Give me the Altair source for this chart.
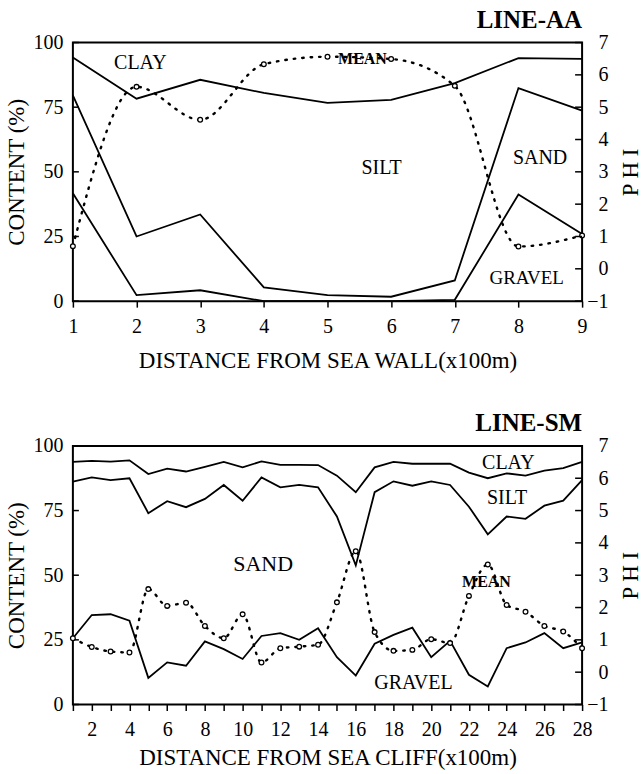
import altair as alt
import pandas as pd

# ---------------- LINE-AA data ----------------
AA_X = [1, 2, 3, 4, 5, 6, 7, 8, 9]
AA_CLAY_SILT = [94.2, 78.3, 85.6, 80.5, 76.7, 77.8, 84.3, 94.0, 93.7]
AA_SILT_SAND = [79.6, 25.0, 33.5, 5.3, 2.3, 1.7, 8.0, 82.4, 73.7]
AA_SAND_GRAVEL = [41.7, 2.3, 4.2, 0.0, 0.0, 0.0, 0.5, 41.2, 26.0]
AA_MEAN_PHI = [0.70, 5.63, 4.61, 6.33, 6.56, 6.49, 5.66, 0.69, 1.03]

# ---------------- LINE-SM data ----------------
SM_X = list(range(1, 29))
SM_CLAY_SILT = [93.8, 94.2, 93.9, 94.4, 89.1, 91.2, 90.1, 91.9, 93.8, 91.7, 94.0, 92.7, 92.7, 92.6,
                88.5, 82.1, 91.7, 93.8, 93.1, 93.1, 93.1, 89.7, 87.5, 89.4, 88.5, 90.4, 91.4, 93.8]
SM_SILT_SAND = [86.2, 87.8, 86.8, 87.5, 74.0, 78.6, 76.3, 79.5, 84.9, 78.8, 87.8, 84.0, 84.9, 84.0,
                72.7, 53.8, 82.1, 86.3, 84.6, 86.3, 84.9, 76.5, 65.8, 72.7, 71.8, 76.9, 78.8, 86.8]
SM_SAND_GRAVEL = [25.6, 34.6, 34.9, 32.4, 10.3, 16.3, 15.0, 24.4, 21.4, 17.6, 26.5, 27.6, 25.0, 29.5,
                  18.3, 11.2, 23.5, 26.9, 29.7, 18.3, 24.6, 11.5, 7.0, 21.8, 24.0, 27.6, 21.8, 24.0]
SM_MEAN_PHI = [1.05, 0.78, 0.64, 0.61, 2.57, 2.05, 2.15, 1.43, 1.05, 1.79, 0.30, 0.74, 0.79, 0.85,
               2.16, 3.74, 1.24, 0.66, 0.69, 1.02, 0.90, 2.36, 3.33, 2.08, 1.87, 1.43, 1.26, 0.74]

# annotation labels: (text, x, content %, size, weight)
AA_LABELS = [("CLAY", 2.06, 92.0, 20, "normal"), ("SILT", 5.85, 51.5, 20, "normal"),
             ("SAND", 8.34, 55.4, 20, "normal"), ("GRAVEL", 8.13, 8.8, 19, "normal"),
             ("MEAN", 5.55, 93.8, 16, "bold")]
SM_LABELS = [("CLAY", 24.09, 93.3, 20, "normal"), ("SILT", 24.02, 79.8, 20, "normal"),
             ("SAND", 11.09, 54.2, 22, "normal"), ("GRAVEL", 19.06, 8.3, 20, "normal"),
             ("MEAN", 22.93, 47.5, 16, "bold")]

PCT_TICKS = [0, 25, 50, 75, 100]
PHI_TICKS = [-1, 0, 1, 2, 3, 4, 5, 6, 7]

W, H = 510, 259
FONT = "Liberation Serif"


def panel(xs, b1, b2, b3, mean, labels, title, xtitle, even_labels, xtitle_pad):
    xmax = max(xs)
    xscale = alt.Scale(domain=[1, xmax], nice=False, zero=False)
    yscale = alt.Scale(domain=[0, 100], nice=False)
    pscale = alt.Scale(domain=[-1, 7], nice=False)

    xaxis = alt.Axis(values=xs, title=xtitle, tickSize=6, tickWidth=1.5, tickColor="black",
                     labelPadding=9, titlePadding=xtitle_pad, labelFlush=False,
                     labelExpr=("datum.value % 2 == 0 ? datum.label : ''" if even_labels else "datum.label"))
    X = alt.X("x:Q", scale=xscale, axis=xaxis)

    rows = []
    for name, arr in (("b1", b1), ("b2", b2), ("b3", b3)):
        for xv, v in zip(xs, arr):
            rows.append({"x": xv, "v": v, "s": name})
    bdf = pd.DataFrame(rows)
    mdf = pd.DataFrame({"x": xs, "phi": mean})
    ldf = pd.DataFrame([{"t": t, "x": x, "v": v, "fs": fs, "fw": fw} for t, x, v, fs, fw in labels])

    lines = alt.Chart(bdf).mark_line(color="black", strokeWidth=1.8).encode(
        x=X,
        y=alt.Y("v:Q", scale=yscale,
                axis=alt.Axis(orient="left", values=PCT_TICKS, ticks=False, title="CONTENT (%)",
                              labelPadding=10, titlePadding=4)),
        detail="s:N",
    )
    lticks = alt.Chart(pd.DataFrame({"v": PCT_TICKS})).mark_rule(color="black", strokeWidth=1.5).encode(
        y=alt.Y("v:Q", scale=yscale, axis=None), x=alt.value(0), x2=alt.value(6))

    mline = alt.Chart(mdf).mark_line(color="black", strokeWidth=2.4, strokeDash=[1.5, 7],
                                     strokeCap="round", interpolate="monotone").encode(
        x=X,
        y=alt.Y("phi:Q", scale=pscale,
                axis=alt.Axis(orient="right", values=PHI_TICKS, ticks=False, title="P H I",
                              labelAlign="right", labelPadding=26, titleAngle=270, titlePadding=34)),
    )
    mpts = alt.Chart(mdf).mark_point(shape="circle", filled=True, fill="white", stroke="black",
                                     strokeWidth=1.3, size=22, opacity=1).encode(
        x=X, y=alt.Y("phi:Q", scale=pscale, axis=None))
    rticks = alt.Chart(pd.DataFrame({"p": PHI_TICKS})).mark_rule(color="black", strokeWidth=1.5).encode(
        y=alt.Y("p:Q", scale=pscale, axis=None), x=alt.value(W - 7), x2=alt.value(W))

    texts = []
    for fs in sorted(set(ldf["fs"])):
        for fw in sorted(set(ldf["fw"])):
            sub = ldf[(ldf["fs"] == fs) & (ldf["fw"] == fw)]
            if len(sub) == 0:
                continue
            texts.append(alt.Chart(sub).mark_text(font=FONT, fontSize=int(fs), fontWeight=fw,
                                                  color="black").encode(
                x=X, y=alt.Y("v:Q", scale=yscale, axis=None), text="t:N"))

    return alt.layer(lines, lticks, mline, mpts, rticks, *texts).resolve_scale(
        y="independent").properties(
        width=W, height=H,
        title=alt.TitleParams(title, anchor="end", frame="group", fontSize=25, fontWeight="bold",
                              font=FONT, offset=0))


top = panel(AA_X, AA_CLAY_SILT, AA_SILT_SAND, AA_SAND_GRAVEL, AA_MEAN_PHI, AA_LABELS,
            "LINE-AA", "DISTANCE FROM  SEA WALL(x100m)", False, 13)
bottom = panel(SM_X, SM_CLAY_SILT, SM_SILT_SAND, SM_SAND_GRAVEL, SM_MEAN_PHI, SM_LABELS,
               "LINE-SM", "DISTANCE FROM  SEA CLIFF(x100m)", True, 7)

chart = alt.vconcat(top, bottom, spacing=37).properties(
    padding={"left": 5, "top": 6, "right": 0, "bottom": 0}
).configure_view(stroke="black", strokeWidth=2).configure_axis(
    labelFont=FONT, titleFont=FONT, labelFontSize=20, titleFontSize=23, titleFontWeight="normal",
    labelColor="black", titleColor="black", domain=False, grid=False
).configure_title(color="black")

chart.save("out.html", embed_options={"renderer": "svg", "actions": False})
